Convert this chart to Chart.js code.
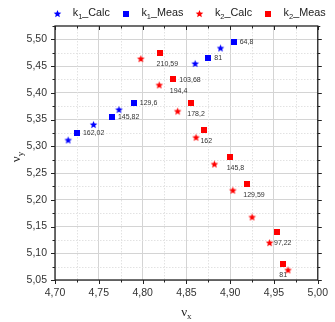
<!DOCTYPE html>
<html>
<head>
<meta charset="utf-8">
<script src="https://cdn.jsdelivr.net/npm/chart.js@4.4.1/dist/chart.umd.min.js"></script>
<style>
    html, body { margin: 0; padding: 0; background: #fff; }
    canvas { display: block; }
</style>
</head>
<body>
<canvas id="tuneChart" width="335" height="322"></canvas>
<script>
// Tune points: calculated vs measured, for k1 and k2
const k1CalcX = [4.715, 4.744, 4.773, 4.860, 4.889];
const k1CalcY = [5.312, 5.341, 5.369, 5.455, 5.484];

const k1MeasX = [4.725, 4.765, 4.790, 4.875, 4.904];
const k1MeasY = [5.325, 5.355, 5.381, 5.466, 5.495];
const k1MeasLabels = ['162,02', '145,82', '129,6', '81', '64,8'];

const k2CalcX = [4.798, 4.819, 4.840, 4.861, 4.882, 4.903, 4.925, 4.945, 4.966];
const k2CalcY = [5.464, 5.415, 5.366, 5.317, 5.267, 5.218, 5.168, 5.120, 5.069];

const k2MeasX = [4.820, 4.835, 4.855, 4.870, 4.900, 4.919, 4.954, 4.960];
const k2MeasY = [5.475, 5.425, 5.381, 5.331, 5.280, 5.230, 5.140, 5.080];
const k2MeasLabels = ['210,59', '194,4', '178,2', '162', '145,8', '129,59', '97,22', '81'];
const k2MeasSideLabels = [null, '103,68', null, null, null, null, null, null];

// name parts: base, subscript, rest
const seriesNames = [['k', '1', '_Calc'], ['k', '1', '_Meas'], ['k', '2', '_Calc'], ['k', '2', '_Meas']];

const xTicks = [4.70, 4.75, 4.80, 4.85, 4.90, 4.95, 5.00];
const yTicks = [5.05, 5.10, 5.15, 5.20, 5.25, 5.30, 5.35, 5.40, 5.45, 5.50];

const BLUE = '#0000ff';
const RED = '#ff0000';
const SANS = '"Liberation Sans", Arial, sans-serif';
const SERIF = '"Liberation Serif", "Times New Roman", serif';

function toPoints(xs, ys) {
    return xs.map((x, i) => ({ x: x, y: ys[i] }));
}

function commaFmt(v) {
    return v.toFixed(2).replace('.', ',');
}

// Filled five-point star as a point image
function makeStar(color, r) {
    const size = 9;
    const c = document.createElement('canvas');
    c.width = size;
    c.height = size;
    const g = c.getContext('2d');
    const cx = size / 2, cy = size / 2 + 0.4;
    g.fillStyle = color;
    g.beginPath();
    for (let i = 0; i < 10; i++) {
        const a = -Math.PI / 2 + i * Math.PI / 5;
        const rad = i % 2 ? r * 0.45 : r;
        const px = cx + Math.cos(a) * rad;
        const py = cy + Math.sin(a) * rad;
        if (i === 0) g.moveTo(px, py); else g.lineTo(px, py);
    }
    g.closePath();
    g.fill();
    return c;
}

function makeSquare(color, s) {
    const c = document.createElement('canvas');
    c.width = s;
    c.height = s;
    const g = c.getContext('2d');
    g.fillStyle = color;
    g.fillRect(0, 0, s, s);
    return c;
}

const blueStar = makeStar(BLUE, 4);
const redStar = makeStar(RED, 4);
const blueSquare = makeSquare(BLUE, 6);
const redSquare = makeSquare(RED, 6);

// Legend row across the top, roughly centred over the plot area
const legendPlugin = {
    id: 'topLegend',
    afterDraw(chart) {
        const { ctx, chartArea: a } = chart;
        const datasets = chart.data.datasets;
        const symGap = 15.5, itemGap = 16, y = 13.5;
        const mainFont = '10.8px ' + SANS, subFont = '7.5px ' + SANS;
        ctx.save();
        ctx.fillStyle = '#1a1a1a';
        ctx.textBaseline = 'middle';
        ctx.textAlign = 'left';
        const parts = seriesNames.map(([b, s, r]) => {
            ctx.font = mainFont;
            const wb = ctx.measureText(b).width;
            const wr = ctx.measureText(r).width;
            ctx.font = subFont;
            const ws = ctx.measureText(s).width;
            return { b, s, r, wb, ws, w: wb + ws + wr };
        });
        let total = 0;
        parts.forEach((p, i) => { total += symGap + p.w + (i < parts.length - 1 ? itemGap : 0); });
        let x = (a.left + a.right) / 2 - total / 2 + 5;
        datasets.forEach((d, i) => {
            const img = d.pointStyle;
            const p = parts[i];
            ctx.drawImage(img, Math.round(x - img.width / 2), Math.round(y - img.height / 2));
            let tx = x + symGap;
            ctx.font = mainFont;
            ctx.fillText(p.b, tx, y);
            tx += p.wb;
            ctx.font = subFont;
            ctx.fillText(p.s, tx, y + 3);
            tx += p.ws;
            ctx.font = mainFont;
            ctx.fillText(p.r, tx, y);
            x += symGap + p.w + itemGap;
        });
        ctx.restore();
    }
};

// Frame, minor grid, ticks on all sides, point labels and axis titles
const framePlugin = {
    id: 'frame',
    beforeDatasetsDraw(chart) {
        const { ctx, chartArea: a, scales } = chart;
        ctx.save();
        ctx.strokeStyle = '#e2e2e2';
        ctx.lineWidth = 1;
        ctx.setLineDash([1.5, 1.5]);
        for (let i = 0; i < xTicks.length - 1; i++) {
            const px = Math.round(scales.x.getPixelForValue((xTicks[i] + xTicks[i + 1]) / 2)) + 0.5;
            ctx.beginPath();
            ctx.moveTo(px, a.top);
            ctx.lineTo(px, a.bottom);
            ctx.stroke();
        }
        for (let i = 0; i < yTicks.length - 1; i++) {
            const py = Math.round(scales.y.getPixelForValue((yTicks[i] + yTicks[i + 1]) / 2)) + 0.5;
            ctx.beginPath();
            ctx.moveTo(a.left, py);
            ctx.lineTo(a.right, py);
            ctx.stroke();
        }
        ctx.restore();
    },
    afterDatasetsDraw(chart) {
        const { ctx } = chart;
        ctx.save();
        ctx.font = '7px ' + SANS;
        ctx.fillStyle = '#333';
        ctx.textBaseline = 'middle';
        ctx.textAlign = 'left';
        chart.getDatasetMeta(1).data.forEach((pt, i) => {
            if (k1MeasLabels[i]) ctx.fillText(k1MeasLabels[i], pt.x + 6, pt.y + 0.5);
        });
        chart.getDatasetMeta(3).data.forEach((pt, i) => {
            if (k2MeasLabels[i]) ctx.fillText(k2MeasLabels[i], pt.x - 3.5, pt.y + 11.5);
            if (k2MeasSideLabels[i]) ctx.fillText(k2MeasSideLabels[i], pt.x + 6, pt.y + 0.5);
        });
        ctx.restore();
    },
    afterDraw(chart) {
        const { ctx, chartArea: a, scales } = chart;
        ctx.save();
        ctx.strokeStyle = '#222';
        ctx.lineWidth = 1.3;
        ctx.strokeRect(a.left, a.top, a.right - a.left, a.bottom - a.top);

        ctx.lineWidth = 1;
        const xs = [];
        xTicks.forEach((v, i) => {
            xs.push([v, 4]);
            if (i < xTicks.length - 1) xs.push([(v + xTicks[i + 1]) / 2, 2.5]);
        });
        const ys = [];
        yTicks.forEach((v, i) => {
            ys.push([v, 4]);
            if (i < yTicks.length - 1) ys.push([(v + yTicks[i + 1]) / 2, 2.5]);
        });
        ys.push([5.525, 2.5]);
        ctx.beginPath();
        xs.forEach(([v, len]) => {
            const px = Math.round(scales.x.getPixelForValue(v)) + 0.5;
            ctx.moveTo(px, a.bottom);
            ctx.lineTo(px, a.bottom + len);
            ctx.moveTo(px, a.top);
            ctx.lineTo(px, a.top + len);
        });
        ys.forEach(([v, len]) => {
            const py = Math.round(scales.y.getPixelForValue(v)) + 0.5;
            ctx.moveTo(a.left, py);
            ctx.lineTo(a.left - len, py);
            ctx.moveTo(a.right, py);
            ctx.lineTo(a.right + len, py);
        });
        ctx.stroke();

        // axis titles: nu with subscript
        ctx.fillStyle = '#222';
        ctx.textBaseline = 'alphabetic';
        const drawTitle = (s) => {
            ctx.font = '13px ' + SERIF;
            const w1 = ctx.measureText('\u03bd').width;
            ctx.font = '9px ' + SERIF;
            const w2 = ctx.measureText(s).width;
            const x0 = -(w1 + w2) / 2;
            ctx.font = '13px ' + SERIF;
            ctx.textAlign = 'left';
            ctx.fillText('\u03bd', x0, 0);
            ctx.font = '9px ' + SERIF;
            ctx.fillText(s, x0 + w1, 3);
        };
        ctx.save();
        ctx.translate((a.left + a.right) / 2, 316);
        drawTitle('x');
        ctx.restore();
        ctx.save();
        ctx.translate(20, (a.top + a.bottom) / 2 + 4);
        ctx.rotate(-Math.PI / 2);
        drawTitle('y');
        ctx.restore();
        ctx.restore();
    }
};

const tickFont = { family: SANS, size: 10.5 };

new Chart(document.getElementById('tuneChart').getContext('2d'), {
    type: 'scatter',
    data: {
        datasets: [
            { label: 'k1_Calc', data: toPoints(k1CalcX, k1CalcY), pointStyle: blueStar, backgroundColor: BLUE, borderColor: BLUE },
            { label: 'k1_Meas', data: toPoints(k1MeasX, k1MeasY), pointStyle: blueSquare, backgroundColor: BLUE, borderColor: BLUE },
            { label: 'k2_Calc', data: toPoints(k2CalcX, k2CalcY), pointStyle: redStar, backgroundColor: RED, borderColor: RED },
            { label: 'k2_Meas', data: toPoints(k2MeasX, k2MeasY), pointStyle: redSquare, backgroundColor: RED, borderColor: RED }
        ]
    },
    options: {
        responsive: false,
        devicePixelRatio: 1,
        animation: false,
        layout: { padding: { left: 0, right: 12, top: 26, bottom: 0 } },
        plugins: {
            tooltip: { enabled: false },
            legend: { display: false }
        },
        scales: {
            x: {
                type: 'linear',
                min: 4.70,
                max: 5.00,
                afterBuildTicks: (scale) => { scale.ticks = xTicks.map(v => ({ value: v })); },
                afterFit: (scale) => { scale.height = 42; },
                ticks: { callback: (v) => commaFmt(v), font: tickFont, color: '#333', padding: 7, maxRotation: 0 },
                grid: { color: '#d4d4d4', drawTicks: false },
                border: { display: false }
            },
            y: {
                type: 'linear',
                min: 5.05,
                max: 5.525,
                afterBuildTicks: (scale) => { scale.ticks = yTicks.map(v => ({ value: v })); },
                afterFit: (scale) => { scale.width = 55; },
                ticks: { callback: (v) => commaFmt(v), font: tickFont, color: '#333', padding: 8 },
                grid: { color: '#d4d4d4', drawTicks: false },
                border: { display: false }
            }
        }
    },
    plugins: [framePlugin, legendPlugin]
});
</script>
</body>
</html>
